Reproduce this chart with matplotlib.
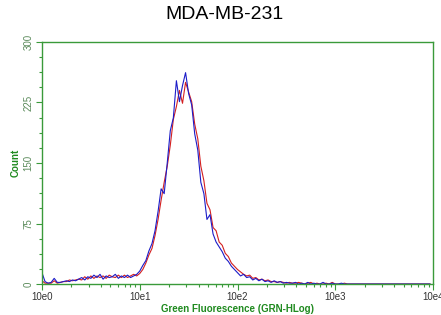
import numpy as np
import matplotlib
matplotlib.use("Agg")
import matplotlib.pyplot as plt
from matplotlib.ticker import FixedLocator, LogLocator, NullFormatter, AutoMinorLocator

plt.rcParams["font.family"] = ["Liberation Sans", "DejaVu Sans"]

# histogram channels: 128 channels over 4 decades (32 per decade)
channels = np.arange(128)

blue_counts = [
    14, 3, 1, 2, 7, 2, 2, 3, 4, 3, 5, 4, 6, 8, 5, 9,
    7, 11, 8, 12, 6, 10, 8, 9, 12, 7, 10, 8, 11, 8, 10, 12,
    16, 23, 29, 41, 50, 66, 90, 118, 112, 150, 190, 206, 252, 226, 246, 262,
    236, 222, 186, 166, 126, 112, 80, 86, 62, 52, 46, 40, 32, 28, 22, 18,
    14, 10, 12, 8, 9, 5, 7, 4, 6, 3, 4, 2, 4, 2, 3, 1,
    2, 1, 1, 2, 0, 1, 0, 2, 0, 1, 0, 0, 2, 0, 0, 1,
    0, 0, 1, 0, 0, 0, 0, 0, 0, 0, 0, 0, 0, 0, 0, 0,
    0, 0, 0, 0, 0, 0, 0, 0, 0, 0, 0, 0, 0, 0, 0, 0,
]

red_counts = [
    4, 1, 1, 1, 4, 1, 2, 3, 3, 5, 4, 5, 6, 5, 9, 6,
    10, 7, 10, 8, 10, 7, 11, 9, 8, 11, 8, 11, 8, 10, 12, 10,
    13, 18, 26, 36, 44, 60, 80, 104, 126, 146, 172, 204, 220, 240, 224, 250,
    238, 226, 198, 180, 146, 128, 100, 92, 70, 66, 52, 48, 38, 34, 26, 22,
    18, 15, 12, 10, 11, 7, 8, 5, 6, 4, 5, 3, 3, 2, 3, 2,
    1, 2, 1, 1, 2, 1, 0, 1, 2, 0, 1, 0, 0, 1, 0, 2,
    0, 0, 0, 1, 0, 0, 0, 0, 0, 0, 0, 0, 0, 0, 0, 0,
    0, 0, 0, 0, 0, 0, 0, 0, 0, 0, 0, 0, 0, 0, 0, 0,
]

x_ticks = [1, 10, 100, 1000, 10000]
x_tick_labels = ["10e0", "10e1", "10e2", "10e3", "10e4"]
y_ticks = [0, 75, 150, 225, 300]

fluor = 10 ** (channels / 32)

green = "#3a9a3a"
label_green = "#1f8a1f"

fig = plt.figure(figsize=(4.41, 3.15), dpi=100)
ax = fig.add_axes([0.0952, 0.0984, 0.8867, 0.7683])

ax.plot(fluor, red_counts, color="#d42020", lw=0.8)
ax.plot(fluor, blue_counts, color="#1c1cc8", lw=0.8)

ax.set_xscale("log")
ax.set_xlim(1, 10000)
ax.set_ylim(0, 300)

ax.xaxis.set_major_locator(FixedLocator(x_ticks))
ax.set_xticklabels(x_tick_labels, fontsize=7, color="#333333")
ax.xaxis.set_minor_locator(LogLocator(base=10, subs=np.arange(2, 10)))
ax.xaxis.set_minor_formatter(NullFormatter())

ax.set_yticks(y_ticks)
ax.set_yticklabels([str(v) for v in y_ticks], fontsize=7, color="#5a8a5a",
                   rotation=90, va="center")
ax.yaxis.set_minor_locator(AutoMinorLocator(4))

for s in ax.spines.values():
    s.set_color(green)
    s.set_linewidth(1.0)

ax.tick_params(axis="both", which="major", length=4, width=0.8, color=green, pad=2)
ax.tick_params(axis="both", which="minor", length=2.5, width=0.8, color=green)

ax.set_xlabel("Green Fluorescence (GRN-HLog)", fontsize=7, fontweight="bold",
              color=label_green, labelpad=1)
ax.set_ylabel("Count", fontsize=7, fontweight="bold", color=label_green, labelpad=2)

fig.suptitle("MDA-MB-231", fontsize=14, x=0.51, y=0.98)

fig.savefig("out.png", dpi=100)
